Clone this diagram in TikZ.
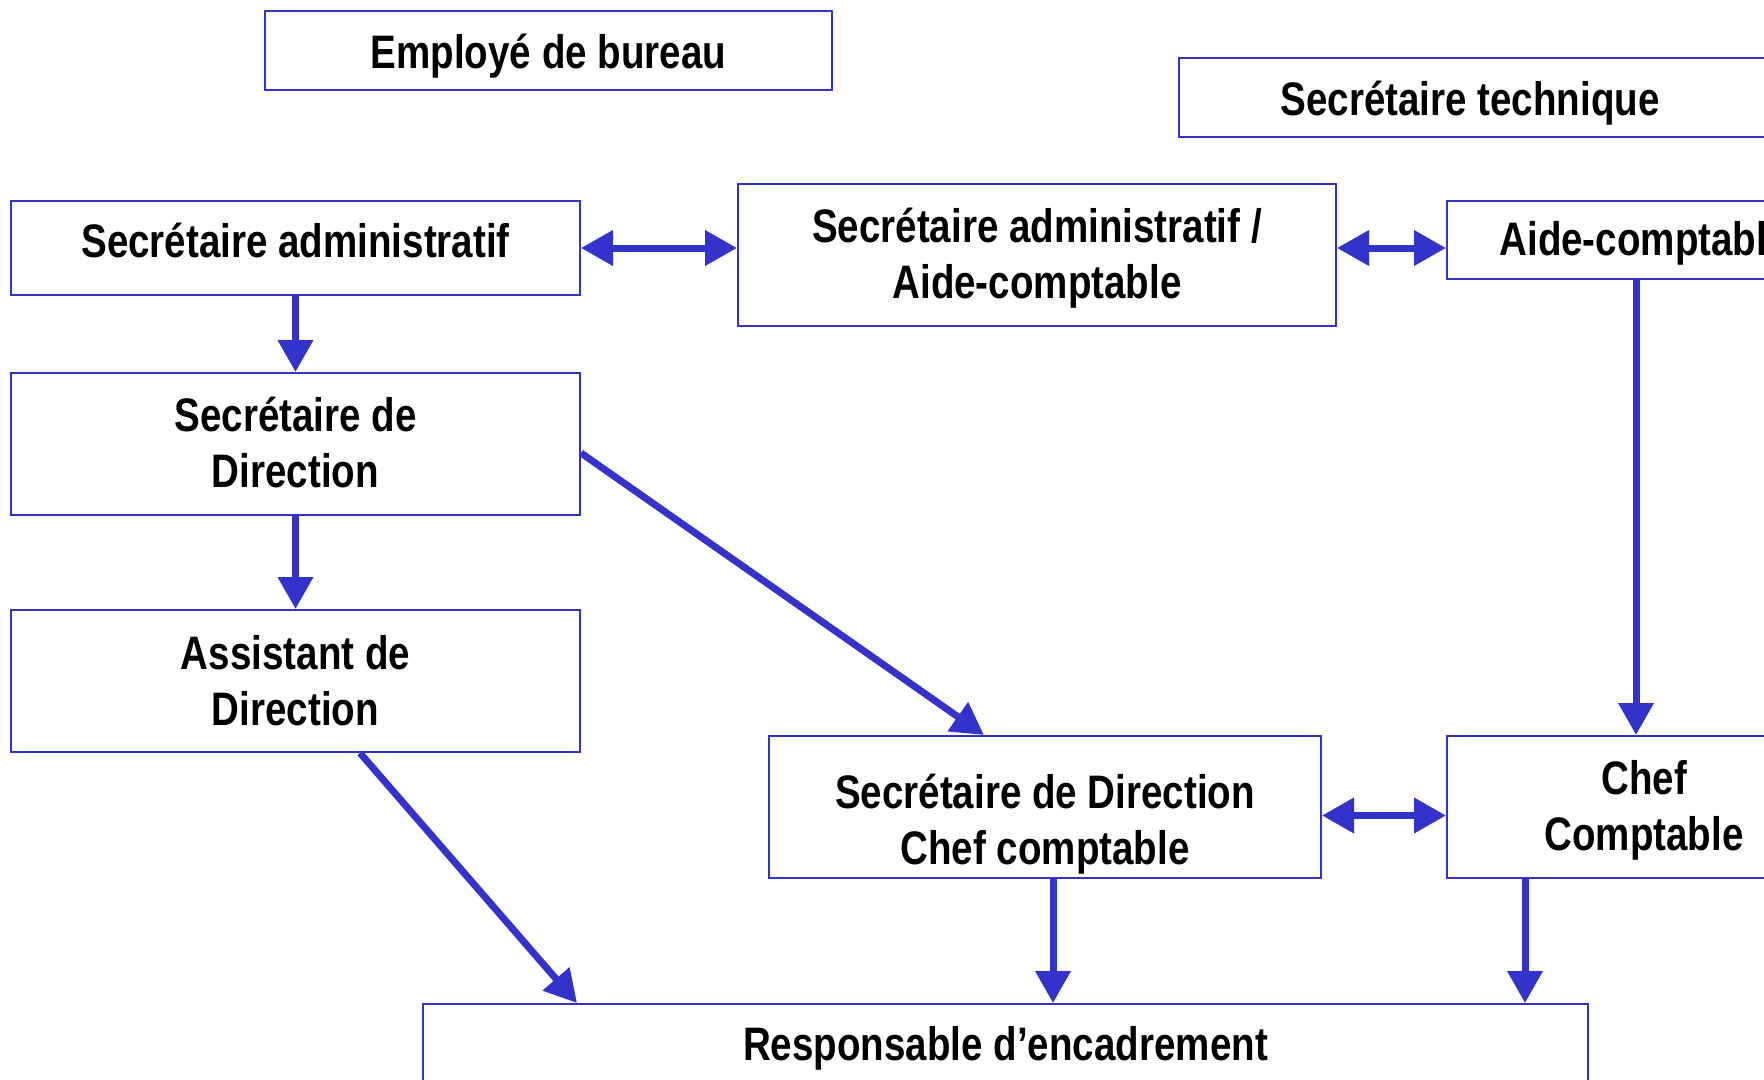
\documentclass[tikz,border=0pt]{standalone}
\usepackage{fontspec}
\setmainfont{Liberation Sans}[FakeStretch=0.82]
\usetikzlibrary{arrows.meta,calc}
\definecolor{ob}{RGB}{51,51,204}
\begin{document}
\begin{tikzpicture}[x=1pt,y=-1pt,
 box/.style={draw=ob,line width=2pt,fill=white,rectangle,inner sep=0pt},
 txt/.style={inner sep=0pt,align=center,text=black,font=\fontsize{47}{56}\selectfont\bfseries},
 conn/.style={draw=ob,line width=7pt,-{Triangle[length=32pt,width=34pt]}},
 dconn/.style={draw=ob,line width=7pt,{Triangle[length=32pt,width=34pt]}-{Triangle[length=32pt,width=34pt]}}]
\useasboundingbox (0,0) rectangle (1764,1079);
\fill[white] (0,0) rectangle (1764,1079);
\clip (0,0) rectangle (1764,1079);

\node[box,minimum width=567pt,minimum height=79pt,
  label={[txt,yshift=-6pt]center:Employé de bureau}] (EB) at (548.5,50.5) {};
\node[box,minimum width=600pt,minimum height=79pt,
  label={[txt,yshift=-6pt,xshift=-9pt]center:Secrétaire technique}] (ST) at (1479,97.5) {};
\node[box,minimum width=569pt,minimum height=94pt,
  label={[txt,yshift=8pt]center:Secrétaire administratif}] (SA) at (295.5,248) {};
\node[box,minimum width=598pt,minimum height=142pt,
  label={[txt,yshift=-3pt]center:Secrétaire administratif /\\Aide-comptable}] (SAAC) at (1037,255) {};
\node[box,minimum width=394pt,minimum height=78pt,
  label={[txt,yshift=-3pt]center:Aide-comptable}] (AC) at (1644,240) {};
\node[box,minimum width=569pt,minimum height=142pt,
  label={[txt,yshift=2pt]center:Secrétaire de\\Direction}] (SD) at (295.5,444) {};
\node[box,minimum width=569pt,minimum height=142pt,
  label={[txt]center:Assistant de\\Direction}] (AD) at (295.5,681) {};
\node[box,minimum width=552pt,minimum height=142pt,
  label={[txt,yshift=-17pt]center:Secrétaire de Direction\\Chef comptable}] (SDCC) at (1045,807) {};
\node[box,minimum width=394pt,minimum height=142pt,
  label={[txt,yshift=-3pt]center:Chef\\Comptable}] (CC) at (1644,807) {};
\node[box,minimum width=1165pt,minimum height=84pt,
  label={[txt,yshift=-2pt]center:Responsable d’encadrement}] (RE) at (1005.5,1046) {};

\draw[dconn] (SA.east) -- (SA.east -| SAAC.west);
\coordinate (a1) at ($(SAAC.east)+(0,-7)$);
\draw[dconn] (a1) -- (a1 -| AC.west);
\draw[conn] (SA.south) -- (SD.north);
\draw[conn] (SD.south) -- (AD.north);
\draw[conn] ($(SD.east)+(0,9)$) -- ($(SDCC.north)+(-61,0)$);
\draw[conn] ($(AD.south)+(64.5,0)$) -- ($(RE.north west)+(155,0)$);
\coordinate (b1) at ($(SDCC.south)+(8,0)$);
\draw[conn] (b1) -- (b1 |- RE.north);
\coordinate (c1) at ($(SDCC.east)+(0,8.5)$);
\draw[dconn] (c1) -- (c1 -| CC.west);
\coordinate (d1) at ($(AC.south)+(-8,0)$);
\draw[conn] (d1) -- (d1 |- CC.north);
\coordinate (e1) at ($(CC.south west)+(79,0)$);
\draw[conn] (e1) -- (e1 |- RE.north);
\end{tikzpicture}
\end{document}
